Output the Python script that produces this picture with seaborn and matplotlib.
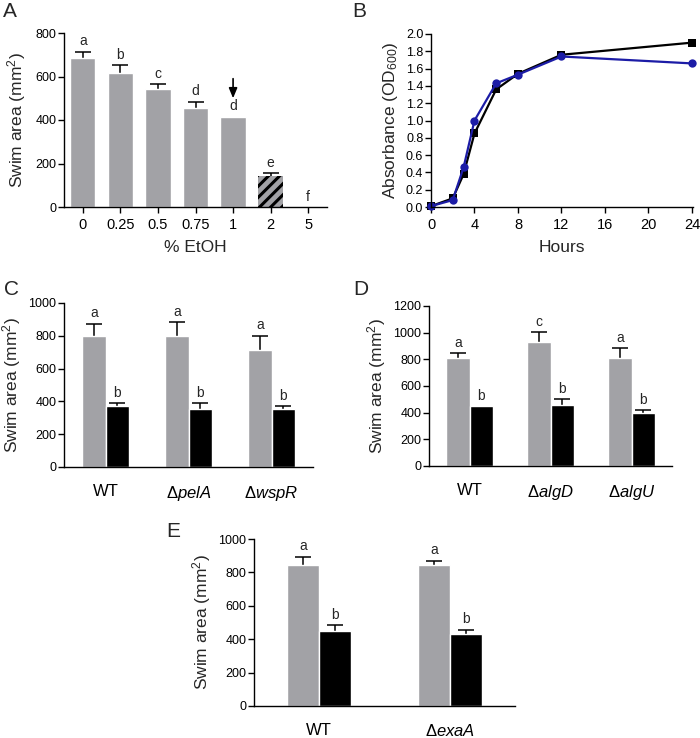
import numpy as np
import pandas as pd
import matplotlib
matplotlib.use("Agg")
import matplotlib.pyplot as plt
import seaborn as sns

# ---- Panel A: swim area vs % EtOH ----
etoh_pct = ["0", "0.25", "0.5", "0.75", "1", "2", "5"]
etoh_area = [683, 616, 543, 454, 415, 143, 0]
etoh_err = [30, 37, 21, 30, 0, 13, 0]
etoh_letters = ["a", "b", "c", "d", "d", "e", "f"]

# ---- Panel B: growth curves ----
hours = [0, 2, 3, 4, 6, 8, 12, 24]
od_black = [0.01, 0.10, 0.38, 0.85, 1.36, 1.54, 1.76, 1.90]
od_blue = [0.01, 0.08, 0.46, 1.00, 1.43, 1.53, 1.74, 1.66]

# ---- Panel C ----
strains_c = ["WT", r"Δ$\mathit{pelA}$", r"Δ$\mathit{wspR}$"]
c_ctrl = [797, 797, 711]
c_ctrl_err = [77, 87, 88]
c_etoh = [372, 356, 356]
c_etoh_err = [18, 34, 16]
c_ctrl_letters = ["a", "a", "a"]
c_etoh_letters = ["b", "b", "b"]

# ---- Panel D ----
strains_d = ["WT", r"Δ$\mathit{algD}$", r"Δ$\mathit{algU}$"]
d_ctrl = [812, 932, 812]
d_ctrl_err = [33, 73, 70]
d_etoh = [447, 460, 395]
d_etoh_err = [0, 40, 25]
d_ctrl_letters = ["a", "c", "a"]
d_etoh_letters = ["b", "b", "b"]

# ---- Panel E ----
strains_e = ["WT", r"Δ$\mathit{exaA}$"]
e_ctrl = [844, 844]
e_ctrl_err = [50, 26]
e_etoh = [450, 432]
e_etoh_err = [34, 26]
e_ctrl_letters = ["a", "a"]
e_etoh_letters = ["b", "b"]

GREY = "#a2a2a6"
BLUE = "#1c1ca6"

sns.set_style("ticks")
plt.rcParams["font.family"] = ["Liberation Sans", "DejaVu Sans"]
plt.rcParams["mathtext.fontset"] = "custom"
plt.rcParams["mathtext.rm"] = "Liberation Sans"
plt.rcParams["mathtext.it"] = "Liberation Sans:italic"
plt.rcParams["hatch.linewidth"] = 2.2
plt.rcParams["axes.linewidth"] = 1.0

W, H = 700, 738
fig = plt.figure(figsize=(7, 7.38), dpi=100)


def px_axes(left, top, right, bottom):
    return fig.add_axes([left / W, 1 - bottom / H, (right - left) / W, (bottom - top) / H])


def style_axes(ax, xtick_len=4):
    sns.despine(ax=ax)
    ax.tick_params(axis="y", labelsize=9, length=4, width=1, pad=1.5, colors="black")
    ax.tick_params(axis="x", labelsize=10.5, length=xtick_len, width=1, pad=4, colors="black")
    for s in ("left", "bottom"):
        ax.spines[s].set_color("black")


def upper_errs(ax, bars, errs, color="black", capsize=5.5):
    xs = np.array([b.get_x() + b.get_width() / 2 for b in bars])
    hs = np.array([b.get_height() for b in bars])
    errs = np.asarray(errs, dtype=float)
    keep = errs > 0
    if keep.any():
        _, caps, _ = ax.errorbar(xs[keep], hs[keep],
                                 yerr=[np.zeros(keep.sum()), errs[keep]],
                                 fmt="none", ecolor=color, elinewidth=1.1,
                                 capsize=capsize, capthick=1.1, zorder=1)
        caps[0].set_visible(False)  # only the upper cap is drawn
    return xs, hs + errs


def put_letters(ax, xs, tops, letters):
    for x, t, s in zip(xs, tops, letters):
        ax.annotate(s, (x, t), xytext=(0, 2.5), textcoords="offset points",
                    ha="center", va="bottom", fontsize=10)


# ================= Panel A =================
axA = px_axes(64, 33, 327, 207)
dfA = pd.DataFrame({"pct": etoh_pct, "area": etoh_area})
sns.barplot(data=dfA, x="pct", y="area", color=GREY, saturation=1,
            width=0.67, errorbar=None, ax=axA, zorder=2)
bars = axA.containers[0]
bars[5].set_hatch("///")
bars[5].set_edgecolor("black")
bars[5].set_linewidth(0)
xs, tops = upper_errs(axA, bars, etoh_err)
put_letters(axA, xs, tops, etoh_letters)
axA.annotate("", xy=(xs[4], 500), xytext=(xs[4], 590),
             arrowprops=dict(arrowstyle="-|>,head_width=0.25,head_length=0.6",
                             color="black", lw=1.2, shrinkA=0, shrinkB=0))
axA.set_xlim(-0.5, 6.5)
axA.set_ylim(0, 800)
axA.set_yticks(np.arange(0, 801, 200))
axA.set_xlabel("% EtOH", fontsize=12.5, labelpad=6)
axA.set_ylabel("Swim area (mm$^2$)", fontsize=12.5, labelpad=5)
style_axes(axA)

# ================= Panel B =================
axB = px_axes(431, 34, 693, 207)
dfB = pd.DataFrame({"hours": hours * 2,
                    "od": od_black + od_blue,
                    "strain": ["black"] * len(hours) + ["blue"] * len(hours)})
sns.lineplot(data=dfB[dfB.strain == "black"], x="hours", y="od", color="black",
             marker="s", markersize=5.5, markeredgewidth=0, lw=1.6, ax=axB,
             errorbar=None)
sns.lineplot(data=dfB[dfB.strain == "blue"], x="hours", y="od", color=BLUE,
             marker="o", markersize=6, markeredgewidth=0, lw=1.6, ax=axB,
             errorbar=None)
axB.set_xlim(0, 24.1)
axB.set_ylim(0, 2.0)
axB.set_xticks(np.arange(0, 25, 4))
axB.set_yticks(np.round(np.arange(0, 2.01, 0.2), 1))
axB.set_yticklabels([f"{v:.1f}" for v in np.arange(0, 2.01, 0.2)])
axB.set_xlabel("Hours", fontsize=12.5, labelpad=6)
axB.set_ylabel("Absorbance (OD$_{600}$)", fontsize=12.5, labelpad=4)
for ln in axB.lines:
    ln.set_clip_on(False)
style_axes(axB)


# ================= grouped panels =================
def grouped(ax, strains, ctrl, ctrl_err, etoh, etoh_err, l_ctrl, l_etoh, width, ymax):
    n = len(strains)
    df = pd.DataFrame({"strain": strains * 2,
                       "cond": ["untreated"] * n + ["EtOH"] * n,
                       "area": ctrl + etoh})
    sns.barplot(data=df, x="strain", y="area", hue="cond",
                palette=[GREY, "black"], saturation=1, width=width,
                errorbar=None, legend=False, ax=ax, zorder=2)
    xs, tops = upper_errs(ax, ax.containers[0], ctrl_err)
    put_letters(ax, xs, tops, l_ctrl)
    xs, tops = upper_errs(ax, ax.containers[1], etoh_err)
    put_letters(ax, xs, tops, l_etoh)
    ax.set_xlim(-0.5, n - 0.5)
    ax.set_ylim(0, ymax)
    ax.set_yticks(np.arange(0, ymax + 1, 200))
    ax.set_xlabel("")
    ax.set_ylabel("Swim area (mm$^2$)", fontsize=12.5, labelpad=4)
    style_axes(ax, xtick_len=0)
    ax.tick_params(axis="x", labelsize=12, pad=12)


axC = px_axes(64, 303, 313, 467)
grouped(axC, strains_c, c_ctrl, c_ctrl_err, c_etoh, c_etoh_err,
        c_ctrl_letters, c_etoh_letters, 0.56, 1000)

axD = px_axes(429, 306, 672, 466)
grouped(axD, strains_d, d_ctrl, d_ctrl_err, d_etoh, d_etoh_err,
        d_ctrl_letters, d_etoh_letters, 0.57, 1200)

axE = px_axes(254, 539, 515, 706)
grouped(axE, strains_e, e_ctrl, e_ctrl_err, e_etoh, e_etoh_err,
        e_ctrl_letters, e_etoh_letters, 0.49, 1000)

# panel letters
for lab, x, y in [("A", 3, 17), ("B", 352, 17), ("C", 4, 295),
                  ("D", 353, 295), ("E", 166, 537)]:
    fig.text(x / W, 1 - y / H, lab, fontsize=15, va="baseline", ha="left")

fig.savefig("out.png", dpi=100)
